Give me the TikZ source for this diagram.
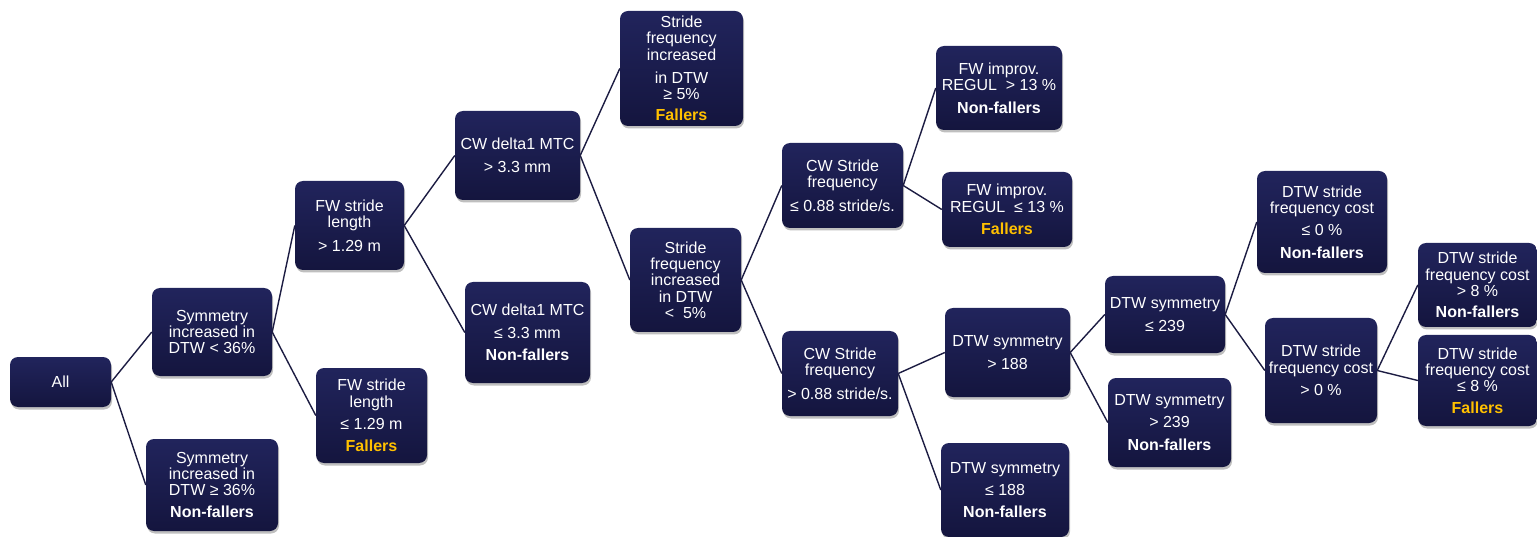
\documentclass[tikz,border=0pt]{standalone}
\usepackage{fontspec}
\setmainfont{Liberation Sans}
\usetikzlibrary{shadows}

\definecolor{navytop}{RGB}{33,36,92}
\definecolor{navybot}{RGB}{20,21,62}
\definecolor{edgecol}{RGB}{28,28,66}
\definecolor{fallgold}{RGB}{255,192,0}

\begin{document}
\begin{tikzpicture}[x=1pt,y=-1pt,
      font=\fontsize{16}{16.3}\selectfont,
      box/.style={rounded corners=8pt,align=center,text=white,inner sep=2pt,
                  top color=navytop,bottom color=navybot,draw=none,
                  drop shadow={shadow xshift=1pt,shadow yshift=-2.5pt,
                               opacity=0.25,fill=black}},
      sz/.style 2 args={minimum width=#1pt,minimum height=#2pt},
      link/.style={draw=edgecol,line width=1.4pt}]
    \useasboundingbox (0,0) rectangle (1537,537);
    % root and first split
    \node[box,sz={101}{50}] (all) at (60.5,382) {All};
    \node[box,sz={120}{88}] (symlo) at (212,332) {Symmetry\\increased in\\DTW < 36\%};
    \node[box,sz={132}{92}] (symhi) at (212,485) {Symmetry\\increased in\\DTW ≥ 36\%\\[6pt]\textbf{Non-fallers}};
    % stride length
    \node[box,sz={109}{89}] (fwhi) at (349.5,225.5) {FW stride\\length\\[7pt]> 1.29 m};
    \node[box,sz={111}{95}] (fwlo) at (371.5,415.5) {FW stride\\length\\[6pt]≤ 1.29 m\\[6pt]\textcolor{fallgold}{\textbf{Fallers}}};
    % MTC
    \node[box,sz={125}{89}] (mtchi) at (517.5,155.5) {CW delta1 MTC\\[7pt]> 3.3 mm};
    \node[box,sz={125}{101}] (mtclo) at (527.5,332.5) {CW delta1 MTC\\[6pt]≤ 3.3 mm\\[6pt]\textbf{Non-fallers}};
    % stride frequency increase
    \node[box,sz={123}{115}] (sfhi) at (681.5,68.5) {Stride\\frequency\\increased\\[7pt]in DTW\\≥ 5\%\\[5pt]\textcolor{fallgold}{\textbf{Fallers}}};
    \node[box,sz={111}{104}] (sflo) at (685.5,280) {Stride\\frequency\\increased\\in DTW\\<~~5\%};
    % CW stride frequency
    \node[box,sz={121}{85}] (cwlo) at (842.5,185.5) {CW Stride\\frequency\\[7pt]≤ 0.88 stride/s.};
    \node[box,sz={116}{85}] (cwhi) at (840,373.5) {CW Stride\\frequency\\[7pt]> 0.88 stride/s.};
    % regularity
    \node[box,sz={126}{84}] (reghi) at (999,88) {FW improv.\\REGUL~~> 13 \%\\[6pt]\textbf{Non-fallers}};
    \node[box,sz={130}{75}] (reglo) at (1007,209.5) {FW improv.\\REGUL~~≤ 13 \%\\[6pt]\textcolor{fallgold}{\textbf{Fallers}}};
    % DTW symmetry
    \node[box,sz={125}{89}] (dsa) at (1007.5,352.5) {DTW symmetry\\[7pt]> 188};
    \node[box,sz={128}{94}] (dsb) at (1005,490) {DTW symmetry\\[6pt]≤ 188\\[6pt]\textbf{Non-fallers}};
    \node[box,sz={120}{77}] (dsc) at (1165,314.5) {DTW symmetry\\[7pt]≤ 239};
    \node[box,sz={123}{89}] (dsd) at (1169.5,422.5) {DTW symmetry\\[6pt]> 239\\[6pt]\textbf{Non-fallers}};
    % DTW stride frequency cost
    \node[box,sz={130}{102}] (cost0lo) at (1322,222) {DTW stride\\frequency cost\\[6pt]≤ 0 \%\\[6pt]\textbf{Non-fallers}};
    \node[box,sz={112}{105}] (cost0hi) at (1321,370.5) {DTW stride\\frequency cost\\[6pt]> 0 \%};
    \node[box,sz={119}{84}] (cost8hi) at (1477.5,285) {DTW stride\\frequency cost\\> 8 \%\\[5pt]\textbf{Non-fallers}};
    \node[box,sz={119}{91}] (cost8lo) at (1477.5,380.5) {DTW stride\\frequency cost\\≤ 8 \%\\[5pt]\textcolor{fallgold}{\textbf{Fallers}}};
    % branches
    \foreach \p/\c in {all/symlo,all/symhi,symlo/fwhi,symlo/fwlo,fwhi/mtchi,fwhi/mtclo,
                       mtchi/sfhi,mtchi/sflo,sflo/cwlo,sflo/cwhi,cwlo/reghi,cwlo/reglo,
                       cwhi/dsa,cwhi/dsb,dsa/dsc,dsa/dsd,dsc/cost0lo,dsc/cost0hi,
                       cost0hi/cost8hi,cost0hi/cost8lo}
      \draw[link] (\p.east)--(\c.west);
  \end{tikzpicture}
\end{document}
